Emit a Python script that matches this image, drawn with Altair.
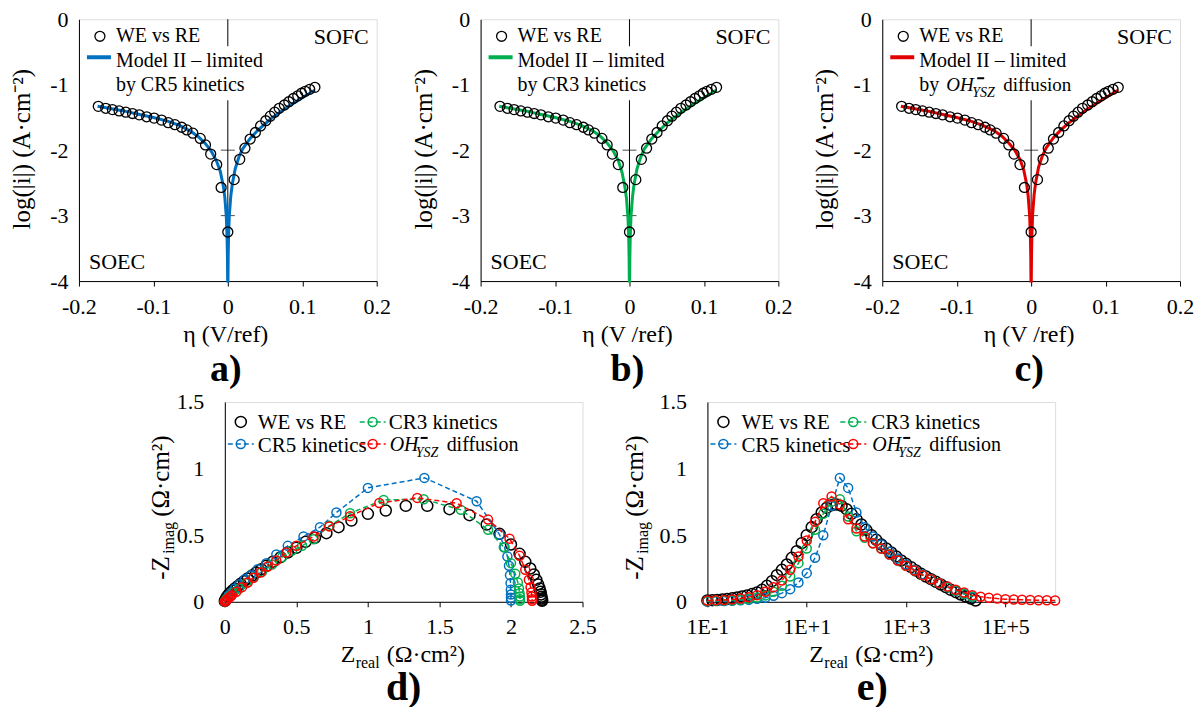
import altair as alt
import pandas as pd

FONT = "Liberation Serif"

# ---------------- panels a-c : Tafel data ----------------
eta_we = [-0.174, -0.164, -0.155, -0.146, -0.137, -0.128, -0.119, -0.109, -0.099, -0.089,
          -0.080, -0.071, -0.062, -0.055, -0.047, -0.037, -0.030, -0.023, -0.015, -0.009,
          0.000, 0.0085, 0.016, 0.023, 0.030, 0.037, 0.044, 0.051, 0.057, 0.063,
          0.069, 0.076, 0.082, 0.088, 0.094, 0.099, 0.104, 0.110, 0.117]
logi_we = [-1.33, -1.36, -1.38, -1.40, -1.42, -1.44, -1.46, -1.49, -1.51, -1.54,
           -1.58, -1.61, -1.65, -1.69, -1.74, -1.82, -1.92, -2.06, -2.22, -2.57,
           -3.25, -2.45, -2.14, -1.97, -1.83, -1.73, -1.63, -1.55, -1.48, -1.42,
           -1.36, -1.31, -1.26, -1.21, -1.17, -1.13, -1.10, -1.07, -1.04]

eta_model = [-0.175, -0.16, -0.14, -0.12, -0.10, -0.08, -0.065, -0.05, -0.04, -0.03,
             -0.022, -0.015, -0.010, -0.006, -0.004, -0.002, -0.001, -0.0005, -0.0002,
             0.0002, 0.0005, 0.001, 0.002, 0.004, 0.006, 0.010, 0.015, 0.020, 0.030,
             0.040, 0.050, 0.060, 0.070, 0.080, 0.090, 0.100, 0.110, 0.117]
logi_cr5 = [-1.33, -1.36, -1.40, -1.45, -1.50, -1.56, -1.62, -1.71, -1.79, -1.90,
            -2.02, -2.17, -2.33, -2.55, -2.72, -3.02, -3.33, -3.63, -4.0,
            -4.0, -3.62, -3.32, -3.00, -2.70, -2.52, -2.28, -2.10, -1.98, -1.82,
            -1.70, -1.60, -1.50, -1.42, -1.34, -1.27, -1.20, -1.13, -1.08]
logi_cr3 = [-1.33, -1.36, -1.40, -1.45, -1.50, -1.56, -1.62, -1.70, -1.78, -1.89,
            -2.01, -2.16, -2.34, -2.57, -2.74, -3.04, -3.35, -3.65, -4.0,
            -4.0, -3.64, -3.34, -3.02, -2.72, -2.53, -2.29, -2.11, -1.98, -1.82,
            -1.70, -1.59, -1.50, -1.42, -1.34, -1.27, -1.20, -1.13, -1.08]
logi_oh = [-1.33, -1.36, -1.40, -1.45, -1.50, -1.56, -1.62, -1.70, -1.78, -1.89,
           -2.00, -2.14, -2.30, -2.52, -2.70, -3.00, -3.31, -3.62, -4.0,
           -4.0, -3.60, -3.30, -2.98, -2.68, -2.50, -2.26, -2.09, -1.97, -1.81,
           -1.69, -1.59, -1.50, -1.42, -1.34, -1.27, -1.20, -1.13, -1.08]

eta_ticks = [-0.2, -0.1, 0, 0.1, 0.2]
logi_ticks = [-4, -3, -2, -1, 0]
zero_cross_ticks = [-1, -2, -3]

# ---------------- panel d : Nyquist ----------------
zr_we = [0.0, 0.004, 0.01, 0.018, 0.028, 0.04, 0.055, 0.07, 0.09, 0.11, 0.135, 0.16,
         0.19, 0.22, 0.255, 0.29, 0.335, 0.39, 0.44, 0.5, 0.565, 0.63, 0.71, 0.795,
         0.885, 1.0, 1.125, 1.265, 1.415, 1.57, 1.71, 1.83, 1.92, 2.0, 2.06, 2.1,
         2.135, 2.16, 2.177, 2.19, 2.2, 2.206, 2.21, 2.213, 2.215, 2.217, 2.218]
zi_we = [0.005, 0.015, 0.028, 0.042, 0.056, 0.07, 0.085, 0.1, 0.117, 0.135, 0.155, 0.175,
         0.197, 0.22, 0.245, 0.27, 0.3, 0.335, 0.37, 0.405, 0.45, 0.48, 0.515, 0.56,
         0.61, 0.66, 0.685, 0.72, 0.72, 0.695, 0.65, 0.58, 0.51, 0.43, 0.36, 0.3,
         0.25, 0.205, 0.165, 0.13, 0.1, 0.075, 0.055, 0.038, 0.025, 0.015, 0.008]
zr_cr5 = [0.0, 0.01, 0.025, 0.045, 0.07, 0.1, 0.14, 0.18, 0.23, 0.29, 0.36, 0.44, 0.55,
          0.665, 0.78, 1.0, 1.395, 1.76, 1.92, 1.955, 1.975, 1.986, 1.993, 1.997, 1.999,
          2.0, 2.0, 2.0]
zi_cr5 = [0.003, 0.02, 0.045, 0.07, 0.1, 0.13, 0.17, 0.2, 0.245, 0.29, 0.355, 0.42, 0.49,
          0.56, 0.67, 0.855, 0.93, 0.755, 0.505, 0.41, 0.34, 0.27, 0.2, 0.14, 0.09,
          0.055, 0.03, 0.01]
zr_cr3 = [0.0, 0.01, 0.03, 0.06, 0.1, 0.15, 0.2, 0.26, 0.33, 0.4, 0.47, 0.54, 0.62, 0.73,
          0.875, 1.11, 1.39, 1.65, 1.84, 1.95, 2.0, 2.03, 2.048, 2.056, 2.06, 2.062,
          2.063, 2.063]
zi_cr3 = [0.003, 0.02, 0.04, 0.07, 0.1, 0.14, 0.18, 0.225, 0.28, 0.335, 0.385, 0.42, 0.47,
          0.57, 0.665, 0.765, 0.77, 0.69, 0.54, 0.41, 0.29, 0.21, 0.145, 0.1, 0.065,
          0.04, 0.02, 0.007]
zr_oh = [0.0, 0.003, 0.008, 0.015, 0.025, 0.038, 0.05, 0.08, 0.12, 0.16, 0.2, 0.25, 0.3,
         0.36, 0.43, 0.5, 0.62, 0.73, 0.875, 1.08, 1.345, 1.62, 1.84, 1.99, 2.06, 2.1,
         2.125, 2.137, 2.143, 2.146, 2.147, 2.148]
zi_oh = [0.002, 0.005, 0.009, 0.016, 0.026, 0.038, 0.05, 0.075, 0.11, 0.145, 0.18, 0.22,
         0.265, 0.31, 0.37, 0.42, 0.49, 0.566, 0.643, 0.742, 0.78, 0.74, 0.617, 0.474,
         0.346, 0.24, 0.166, 0.11, 0.07, 0.04, 0.02, 0.008]
z_ticks_x = [0, 0.5, 1, 1.5, 2, 2.5]
z_ticks_y = [0, 0.5, 1, 1.5]

# ---------------- panel e : -Zimag vs frequency ----------------
freq_we = [0.1, 0.126, 0.158, 0.2, 0.251, 0.316, 0.398, 0.501, 0.631, 0.794,
           1, 1.26, 1.58, 2, 2.51, 3.16, 3.98, 5.01, 6.31, 7.94,
           10, 12.6, 15.8, 20, 25.1, 31.6, 39.8, 50.1, 63.1, 79.4,
           100, 126, 158, 200, 251, 316, 398, 501, 631, 794,
           1000, 1260, 1580, 2000, 2510, 3160, 3980, 5010, 6310, 7940,
           10000, 12600, 15800, 20000, 25100]
zif_we = [0.010, 0.012, 0.014, 0.017, 0.021, 0.026, 0.032, 0.040, 0.048, 0.058,
          0.07, 0.09, 0.12, 0.155, 0.20, 0.24, 0.28, 0.33, 0.38, 0.44,
          0.50, 0.56, 0.62, 0.67, 0.705, 0.725, 0.73, 0.72, 0.695, 0.66,
          0.62, 0.58, 0.54, 0.50, 0.465, 0.43, 0.40, 0.37, 0.34, 0.31,
          0.285, 0.26, 0.235, 0.21, 0.19, 0.17, 0.15, 0.13, 0.11, 0.09,
          0.072, 0.055, 0.04, 0.025, 0.01]
freq_model = [0.1, 0.147, 0.215, 0.316, 0.464, 0.681, 1, 1.47, 2.15, 3.16, 4.64, 6.81,
              10, 14.7, 21.5, 31.6, 46.4, 68.1, 100, 147, 215, 316, 464, 681,
              1000, 1470, 2150, 3160, 4640, 6810, 10000, 14700, 21500]
freq_oh_tail = [31600, 46400, 68100, 100000, 147000, 215000, 316000, 464000, 681000, 1000000]
zif_cr5 = [0.004, 0.005, 0.006, 0.008, 0.011, 0.015, 0.022, 0.03, 0.045, 0.065, 0.095, 0.145,
           0.215, 0.33, 0.5, 0.72, 0.93, 0.855, 0.67, 0.56, 0.49, 0.43, 0.375, 0.325,
           0.28, 0.24, 0.205, 0.17, 0.14, 0.11, 0.083, 0.058, 0.035]
zif_cr3 = [0.005, 0.007, 0.009, 0.012, 0.016, 0.022, 0.032, 0.048, 0.075, 0.12, 0.19, 0.29,
           0.40, 0.54, 0.66, 0.75, 0.77, 0.64, 0.53, 0.48, 0.44, 0.40, 0.355, 0.31,
           0.27, 0.235, 0.2, 0.17, 0.14, 0.11, 0.085, 0.06, 0.04]
zif_oh = [0.009, 0.011, 0.014, 0.018, 0.025, 0.035, 0.05, 0.075, 0.11, 0.16, 0.24, 0.34,
          0.46, 0.60, 0.74, 0.79, 0.73, 0.62, 0.55, 0.49, 0.44, 0.40, 0.355, 0.31,
          0.27, 0.235, 0.2, 0.17, 0.14, 0.115, 0.09, 0.07, 0.05,
          0.038, 0.03, 0.024, 0.02, 0.017, 0.015, 0.013, 0.012, 0.011, 0.01]
freq_ticks = [0.1, 10, 1000, 100000]

BLUE, GREEN, RED, RED_TOP = "#0070C0", "#00B050", "#FF0000", "#E00000"

W_TOP, H_TOP = 298, 262
W_D, W_E, H_BOT = 358, 348, 200


def one():
    return pd.DataFrame({"k": [0]})


def text(t, x, y, size=20, angle=0, align="left", style="normal", weight="normal"):
    return alt.Chart(pd.DataFrame({"t": [t]})).mark_text(
        align=align, baseline="alphabetic", fontSize=size, font=FONT, angle=angle,
        fontStyle=style, fontWeight=weight, color="black"
    ).encode(x=alt.value(x), y=alt.value(y), text="t:N")


def hseg(x1, x2, y, color, width, dash=None):
    kw = dict(color=color, strokeWidth=width)
    if dash:
        kw["strokeDash"] = dash
    return alt.Chart(one()).mark_rule(**kw).encode(
        x=alt.value(x1), x2=alt.value(x2), y=alt.value(y))


def dot(x, y, color, size, sw):
    return alt.Chart(one()).mark_point(
        shape="circle", filled=False, color=color, size=size, strokeWidth=sw, opacity=1
    ).encode(x=alt.value(x), y=alt.value(y))


def axis(values, label_expr, tick, pad):
    kw = dict(values=values, labelExpr=label_expr, labelFont=FONT, labelFontSize=22,
              labelColor="black", labelPadding=pad, labelFlush=False, labelOverlap=False,
              domainColor="black", domainWidth=1, grid=False, title=None)
    if tick:
        kw.update(ticks=True, tickSize=tick, tickColor="black", tickWidth=1)
    else:
        kw.update(ticks=False, tickSize=0)
    return alt.Axis(**kw)


def oh_pieces(x0, base, size):
    # italic OH with subscript YSZ carrying an over-bar
    return [text("OH", x0, base, size, style="italic"),
            text("YSZ", x0 + 26, base + 6, 14, style="italic"),
            hseg(x0 + 31, x0 + 38, base - 13, "black", 2),
            text("diffusion", x0 + 57, base, size)]


# ---------------- Tafel panel builder ----------------
def tafel(logi_model, color, xtitle, letter, by_layers, anchor=False):
    xs = alt.Scale(domain=[-0.2, 0.2], nice=False, zero=False)
    ys = alt.Scale(domain=[-4, 0], nice=False, zero=False)
    xax = axis(eta_ticks, "'' + datum.value", 5, 10)
    yax = axis(logi_ticks, "'' + datum.value", 0, 11)

    def X(f):
        return alt.X(f, type="quantitative", scale=xs, axis=xax)

    def Y(f):
        return alt.Y(f, type="quantitative", scale=ys, axis=yax)

    zero_line = alt.Chart(pd.DataFrame({"x": [0]})).mark_rule(
        color="black", strokeWidth=1).encode(x=X("x"), y=alt.value(0), y2=alt.value(H_TOP))
    cross = alt.Chart(pd.DataFrame({"x": [0] * len(zero_cross_ticks), "y": zero_cross_ticks})).mark_tick(
        orient="horizontal", size=14, thickness=1, color="black").encode(x=X("x"), y=Y("y"))
    box = alt.Chart(one()).mark_rect(color="white").encode(
        x=alt.value(6), x2=alt.value(200), y=alt.value(27), y2=alt.value(81))
    model_df = pd.DataFrame({"eta": eta_model, "logi": logi_model, "i": list(range(len(eta_model)))})
    model = alt.Chart(model_df).mark_line(color=color, strokeWidth=3).encode(
        x=X("eta"), y=Y("logi"), order="i:Q")
    we_df = pd.DataFrame({"eta": eta_we, "logi": logi_we})
    we = alt.Chart(we_df).mark_point(
        shape="circle", filled=False, color="black", size=100, strokeWidth=1.3, opacity=1
    ).encode(x=X("eta"), y=Y("logi"))

    layers = [zero_line, cross, box, model, we,
              dot(21, 17, "black", 100, 1.3),
              text("WE vs RE", 37, 23, 20),
              hseg(8, 32, 38, color, 4),
              text("Model II \u2013 limited", 37, 48, 20)]
    layers += by_layers
    layers += [text("SOFC", 290, 25, 22, align="right"),
               text("SOEC", 10, 250, 22),
               text(xtitle, 147, 323, 24, align="center"),
               text("log(|i|) (A\u00b7cm\u207b\u00b2)", -49, 130, 25, angle=270, align="center"),
               text(letter, 147, 362, 38, align="center", weight="bold")]
    if anchor:
        layers.append(alt.Chart(one()).mark_rule(opacity=0, strokeWidth=1).encode(
            x=alt.value(-70), y=alt.value(-10), y2=alt.value(380)))
    return alt.layer(*layers).properties(width=W_TOP, height=H_TOP)


panel_a = tafel(logi_cr5, BLUE, "\u03b7 (V/ref)", "a)",
                [text("by CR5 kinetics", 37, 72, 20)], anchor=True)
panel_b = tafel(logi_cr3, GREEN, "\u03b7 (V /ref)", "b)",
                [text("by CR3 kinetics", 37, 72, 20)])
panel_c = tafel(logi_oh, RED_TOP, "\u03b7 (V /ref)", "c)",
                [text("by", 37, 72, 20)] + oh_pieces(64, 72, 19))


# ---------------- impedance panels ----------------
def legend_imp(c1_text, c2_circle, c2_text):
    r1, r2 = 20, 42
    items = [dot(16, r1, "black", 121, 1.5), text("WE vs RE", c1_text, 27, 21),
             hseg(c2_circle - 13, c2_circle + 13, r1, GREEN, 1.5, [5, 3]),
             dot(c2_circle, r1, GREEN, 81, 1.5), text("CR3 kinetics", c2_text, 27, 21),
             hseg(3, 29, r2, BLUE, 1.5, [5, 3]), dot(16, r2, BLUE, 81, 1.5),
             text("CR5 kinetics", c1_text, 50, 21),
             hseg(c2_circle - 13, c2_circle + 13, r2, RED, 1.5, [5, 3]),
             dot(c2_circle, r2, RED, 81, 1.5)]
    items += oh_pieces(c2_text + 1, 49, 20)
    return items


def titles_imp(zx, yx):
    return [text("Z", zx, 260, 24),
            text("real", zx + 15, 266, 16),
            text("(\u03a9\u00b7cm\u00b2)", zx + 46, 260, 24),
            text("-Z", yx, 178, 25, angle=270),
            text("imag", yx + 5, 152, 16, angle=270),
            text("(\u03a9\u00b7cm\u00b2)", yx, 115, 25, angle=270)]


def series_layers(X, Y, xf, yf, data):
    out = []
    for xs_, ys_, color, is_model in data:
        df = pd.DataFrame({xf: xs_, yf: ys_, "i": list(range(len(xs_)))})
        if is_model:
            out.append(alt.Chart(df).mark_line(color=color, strokeWidth=1.5, strokeDash=[5, 3]).encode(
                x=X(xf), y=Y(yf), order="i:Q"))
            out.append(alt.Chart(df).mark_point(shape="circle", filled=False, color=color, size=81,
                                                strokeWidth=1.5, opacity=1).encode(x=X(xf), y=Y(yf)))
        else:
            out.append(alt.Chart(df).mark_point(shape="circle", filled=False, color=color, size=121,
                                                strokeWidth=1.5, opacity=1).encode(x=X(xf), y=Y(yf)))
    return out


ys_imp = alt.Scale(domain=[0, 1.5], nice=False, zero=False)
yax_imp = axis(z_ticks_y, "'' + datum.value", 0, 21)

# panel d
xs_d = alt.Scale(domain=[0, 2.5], nice=False, zero=False)
xax_d = axis(z_ticks_x, "'' + datum.value", 5, 10)


def Xd(f):
    return alt.X(f, type="quantitative", scale=xs_d, axis=xax_d)


def Yimp(f):
    return alt.Y(f, type="quantitative", scale=ys_imp, axis=yax_imp)


d_layers = series_layers(Xd, Yimp, "zr", "zi", [
    (zr_we, zi_we, "black", False),
    (zr_cr5, zi_cr5, BLUE, True),
    (zr_cr3, zi_cr3, GREEN, True),
    (zr_oh, zi_oh, RED, True)])
d_layers += legend_imp(33, 148, 164)
d_layers += titles_imp(116, -56)
d_layers.append(text("d)", 179, 298, 40, align="center", weight="bold"))
panel_d = alt.layer(*d_layers).properties(width=W_D, height=H_BOT)

# panel e
xs_e = alt.Scale(type="log", domain=[0.1, 1000000], nice=False)
xax_e = axis(freq_ticks, "datum.value < 1 ? '1E-1' : '1E+' + round(log(datum.value) / LN10)", 5, 10)


def Xe(f):
    return alt.X(f, type="quantitative", scale=xs_e, axis=xax_e)


e_layers = series_layers(Xe, Yimp, "f", "zi", [
    (freq_we, zif_we, "black", False),
    (freq_model, zif_cr5, BLUE, True),
    (freq_model, zif_cr3, GREEN, True),
    (freq_model + freq_oh_tail, zif_oh, RED, True)])
e_layers += legend_imp(34, 146, 164)
e_layers += titles_imp(102, -64)
e_layers.append(text("e)", 165, 298, 40, align="center", weight="bold"))
panel_e = alt.layer(*e_layers).properties(width=W_E, height=H_BOT)

spacer = alt.Chart(one()).mark_rule(opacity=0, strokeWidth=1).encode(
    x=alt.value(-70), y=alt.value(-20), y2=alt.value(-19)
).properties(width=21, height=H_BOT, view=alt.ViewBackground(stroke="transparent"))

top_row = alt.hconcat(panel_a, panel_b, panel_c, spacing=104, bounds="flush")
bottom_row = alt.hconcat(spacer, panel_d, panel_e, spacing=125, bounds="flush")

chart = alt.vconcat(top_row, bottom_row, spacing=-19,
                    padding={"left": 0, "top": -1, "right": 0, "bottom": 0}).configure_view(
    stroke="black", strokeWidth=1).configure(background="white", font=FONT)

chart.save("out.html", embed_options={"renderer": "svg", "actions": False})
